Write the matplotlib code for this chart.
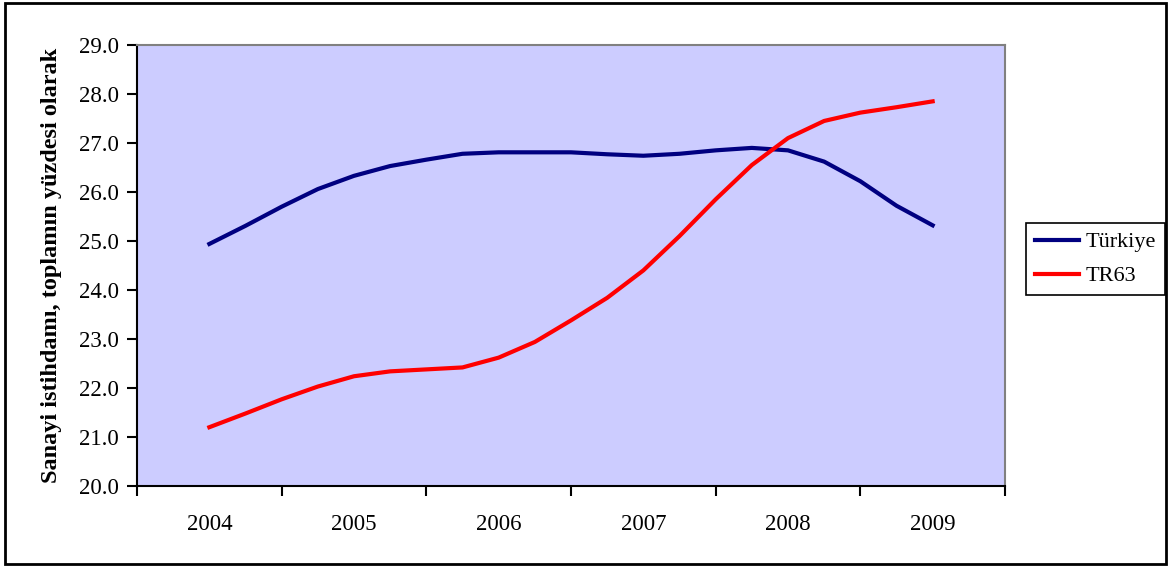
import numpy as np
from matplotlib import pyplot as plt
from matplotlib.patches import Rectangle

years = ['2004', '2005', '2006', '2007', '2008', '2009']
# quarter-step positions along the category axis (0 = 2004 ... 5 = 2009)
pos = np.arange(0, 5.01, 0.25)

turkiye = [24.94, 25.31, 25.70, 26.06, 26.33, 26.53, 26.66, 26.78, 26.81, 26.81, 26.81,
           26.77, 26.74, 26.78, 26.85, 26.90, 26.85, 26.62, 26.22, 25.72, 25.32]
tr63 = [21.20, 21.48, 21.77, 22.03, 22.24, 22.34, 22.38, 22.42, 22.62, 22.94, 23.38,
        23.84, 24.40, 25.10, 25.85, 26.55, 27.10, 27.45, 27.62, 27.73, 27.85]

plt.rcParams['font.family'] = ['Liberation Serif', 'DejaVu Serif']

fig = plt.figure(figsize=(11.72, 5.66), dpi=100)
ax = fig.add_axes([0.1169, 0.1413, 0.7406, 0.7792])
ax.set_facecolor('#CCCCFF')

ax.plot(pos, turkiye, color='#000080', linewidth=3, label='Türkiye')
ax.plot(pos, tr63, color='#FF0000', linewidth=3, label='TR63')

ax.set_xlim(-0.5, 5.5)
ax.set_ylim(20, 29)
ax.set_yticks(np.arange(20, 29.1, 1))
ax.set_yticklabels([f'{v:.1f}' for v in np.arange(20, 29.1, 1)], fontsize=16.5)
ax.set_xticks(np.arange(-0.5, 5.6, 1))
ax.set_xticklabels([])
ax.set_xticks(range(6), minor=True)
ax.set_xticklabels(years, minor=True, fontsize=16.5)
ax.tick_params(axis='x', which='major', direction='out', length=7, width=1.5, color='black')
ax.tick_params(axis='x', which='minor', length=0, pad=20)
ax.tick_params(axis='y', direction='out', length=7, width=1.5, color='black', pad=6)

for s in ['top', 'right']:
    ax.spines[s].set_color('#808080')
    ax.spines[s].set_linewidth(1.5)
for s in ['left', 'bottom']:
    ax.spines[s].set_color('black')
    ax.spines[s].set_linewidth(1.5)

ax.set_ylabel('Sanayi istihdamı, toplamın yüzdesi olarak', fontsize=17.5, fontweight='bold', labelpad=12)

leg = fig.legend(loc='upper left', bbox_to_anchor=(1026 / 1172, 1 - 223 / 566), fontsize=16,
                 frameon=True, fancybox=False, edgecolor='black', framealpha=1,
                 handlelength=2.0, borderpad=0.4, labelspacing=0.6, handletextpad=0.3,
                 borderaxespad=0)
leg.get_frame().set_linewidth(1.2)

fig.patches.append(Rectangle((0.004, 0.004), 0.991, 0.99, transform=fig.transFigure,
                             fill=False, edgecolor='black', linewidth=2))

plt.savefig('out.png', dpi=100)
